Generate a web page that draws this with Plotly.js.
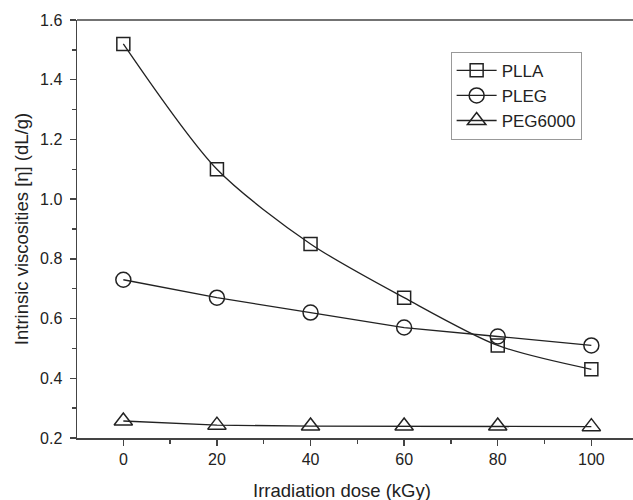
<!DOCTYPE html>
<html>
<head>
<meta charset="utf-8">
<script src="https://cdn.plot.ly/plotly-3.0.1.min.js"></script>
<style>html,body{margin:0;padding:0;background:#fff;}#chart{width:633px;height:500px;}</style>
</head>
<body>
<div id="chart"></div>
<script>
const dose = [0, 20, 40, 60, 80, 100];
const plla = [1.52, 1.10, 0.85, 0.67, 0.51, 0.43];
const pleg = [0.73, 0.67, 0.62, 0.57, 0.54, 0.51];
const peg6000 = [0.257, 0.243, 0.240, 0.240, 0.240, 0.238];
const seriesNames = ['PLLA', 'PLEG', 'PEG6000'];
const xTitle = 'Irradiation dose (kGy)';
const yTitle = 'Intrinsic viscosities [η] (dL/g)';

const lineCol = '#222';
const fontFam = 'Liberation Sans, Arial, sans-serif';
const traces = [
  {x: dose, y: plla, name: seriesNames[0], mode: 'lines+markers',
   line: {color: lineCol, width: 1.3, shape: 'spline', smoothing: 0.8},
   marker: {symbol: 'square-open', size: 13, color: lineCol, line: {width: 1.5}}},
  {x: dose, y: pleg, name: seriesNames[1], mode: 'lines+markers',
   line: {color: lineCol, width: 1.3},
   marker: {symbol: 'circle-open', size: 15, color: lineCol, line: {width: 1.5}}},
  {x: dose, y: peg6000, name: seriesNames[2], mode: 'lines+markers',
   line: {color: lineCol, width: 1.3},
   marker: {symbol: 'triangle-up-open', size: 16, color: lineCol, line: {width: 1.5}}}
];

const axisCommon = {
  showgrid: false, zeroline: false, showline: true, linecolor: '#444', linewidth: 1.5,
  ticks: 'outside', ticklen: 6, tickwidth: 1.3, tickcolor: '#444',
  tickfont: {family: fontFam, size: 16, color: '#222'}
};

const layout = {
  width: 633, height: 500,
  margin: {l: 77, r: 0, t: 20, b: 62},
  paper_bgcolor: '#fff', plot_bgcolor: '#fff',
  showlegend: true,
  legend: {x: 0.672, y: 0.924, xanchor: 'left', yanchor: 'top',
    bordercolor: '#999', borderwidth: 1, bgcolor: '#fff',
    font: {family: fontFam, size: 17, color: '#222'},
    tracegroupgap: 0, itemwidth: 40},
  xaxis: Object.assign({}, axisCommon, {
    range: [-9.9, 108.9], tickmode: 'array', tickvals: [0, 20, 40, 60, 80, 100],
    mirror: false,
    minor: {ticks: 'outside', ticklen: 4, tickcolor: '#444', dtick: 10, tick0: 0, showgrid: false}
  }),
  yaxis: Object.assign({}, axisCommon, {
    range: [0.2, 1.6], dtick: 0.2, tick0: 0.2, tickformat: '.1f', ticklabelstandoff: 4,
    minor: {ticks: 'outside', ticklen: 4, tickcolor: '#444', dtick: 0.1, tick0: 0.2, showgrid: false},
    title: {text: yTitle, standoff: 6,
      font: {family: fontFam, size: 18.5, color: '#222'}}
  }),
  annotations: [
    {text: xTitle, xref: 'paper', yref: 'paper', x: 0.4766, y: -0.125,
     xanchor: 'center', yanchor: 'middle', showarrow: false,
     font: {family: fontFam, size: 18.5, color: '#222'}}
  ],
  shapes: [
    {type: 'line', xref: 'paper', yref: 'paper', x0: 0, x1: 1, y0: 1, y1: 1,
     line: {color: '#444', width: 1.5}}
  ]
};

Plotly.newPlot('chart', traces, layout, {displayModeBar: false, staticPlot: true});
</script>
</body>
</html>
